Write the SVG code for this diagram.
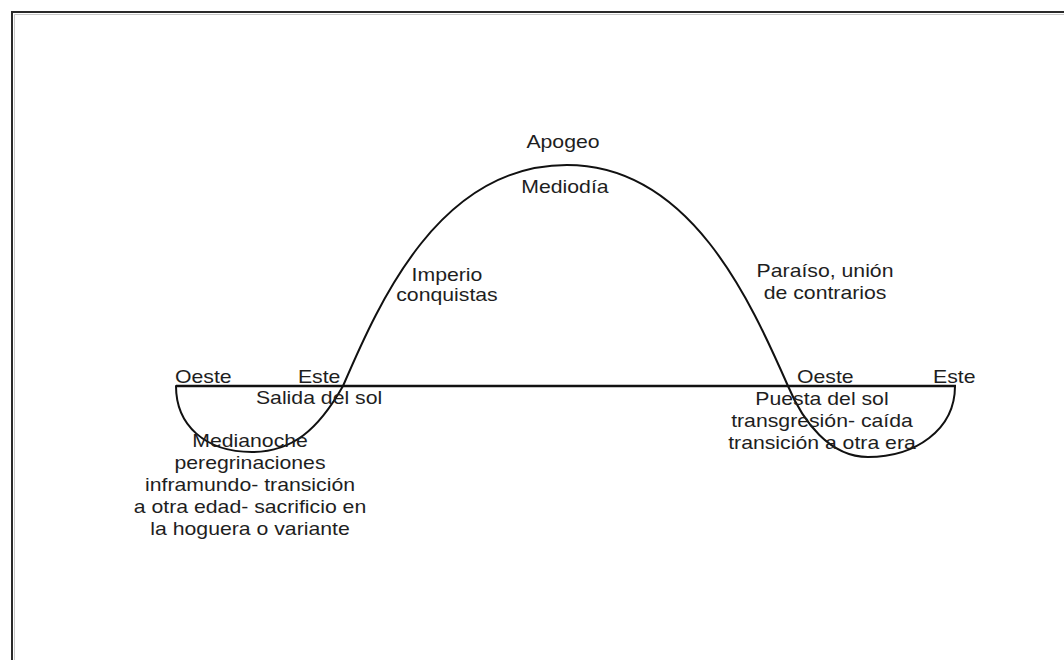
<svg xmlns="http://www.w3.org/2000/svg" width="1064" height="660" viewBox="0 0 1064 660">
<style>
  .lbl { font-family: "Liberation Sans", Arial, sans-serif; font-size: 18px; fill: #1e1e1e; }
  .c { text-anchor: middle; }
  .curve { fill: none; stroke: #111; stroke-width: 2; stroke-linecap: round; stroke-linejoin: round; }
  .axis { fill: none; stroke: #111; stroke-width: 2.6; }
</style>
<rect width="1064" height="660" fill="#ffffff"/>
<g id="frame">
  <path d="M12,670 V12 H1070" fill="none" stroke="#2a2a2a" stroke-width="2"/>
  <path d="M14.5,670 V14.5 H1070" fill="none" stroke="#c8c8c8" stroke-width="1"/>
</g>
<g id="connectors">
  <line class="axis" x1="176" y1="386" x2="956" y2="386"/>
  <path id="underworld-left" class="curve" d="M176,386 C176,425 205,452 252,452 C292,452 318,430 343,386"/>
  <path id="sun-arc" class="curve" d="M343,386 C380,300 440,165 567,165 C690,165 750,300 788,386"/>
  <path id="underworld-right" class="curve" d="M788,386 C803,422 830,457 868,457 C915,457 955,430 955,386"/>
</g>
<g transform="scale(1.18,1)">
  <g id="apogeo"><text class="lbl c" x="477.1" y="148">Apogeo</text></g>
  <g id="mediodia"><text class="lbl c" x="478.8" y="193">Mediodía</text></g>
  <g id="imperio">
    <text class="lbl c" x="378.8" y="281">Imperio</text>
    <text class="lbl c" x="378.8" y="301">conquistas</text>
  </g>
  <g id="paraiso">
    <text class="lbl c" x="699.2" y="277">Paraíso, unión</text>
    <text class="lbl c" x="699.2" y="299">de contrarios</text>
  </g>
  <g id="oeste-left"><text class="lbl" x="148.3" y="383">Oeste</text></g>
  <g id="este-left"><text class="lbl" x="252.5" y="383">Este</text></g>
  <g id="salida"><text class="lbl" x="216.9" y="404">Salida del sol</text></g>
  <g id="medianoche">
    <text class="lbl c" x="211.9" y="447">Medianoche</text>
    <text class="lbl c" x="211.9" y="469">peregrinaciones</text>
    <text class="lbl c" x="211.9" y="491">inframundo- transición</text>
    <text class="lbl c" x="211.9" y="513">a otra edad- sacrificio en</text>
    <text class="lbl c" x="211.9" y="535">la hoguera o variante</text>
  </g>
  <g id="oeste-right"><text class="lbl" x="675.4" y="383">Oeste</text></g>
  <g id="este-right"><text class="lbl" x="790.7" y="383">Este</text></g>
  <g id="puesta">
    <text class="lbl c" x="696.6" y="405">Puesta del sol</text>
    <text class="lbl c" x="696.6" y="427">transgresión- caída</text>
    <text class="lbl c" x="696.6" y="449">transición a otra era</text>
  </g>
</g>
</svg>
